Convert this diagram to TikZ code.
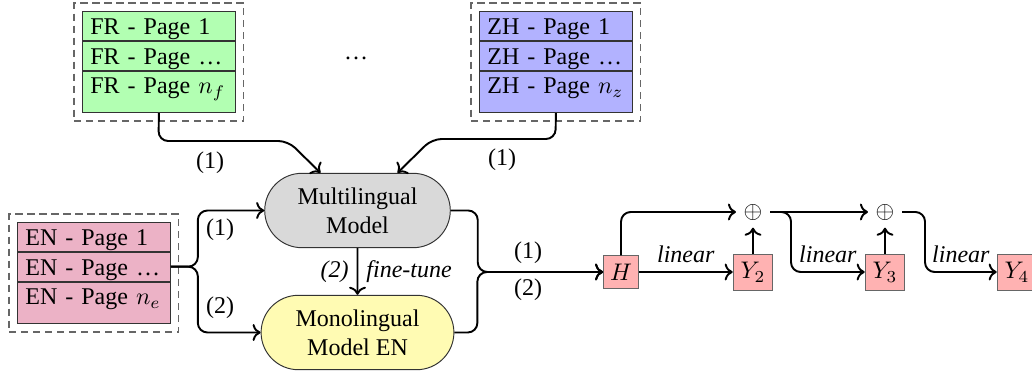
\documentclass[tikz,border=0pt]{standalone}
\usepackage[dvipsnames]{xcolor}
\usepackage{amsmath}
\usepackage{amssymb}
\usepackage{fontspec}
\setmainfont{Liberation Serif}
\usetikzlibrary{arrows, arrows.meta, positioning, shapes.misc, fit, calc}

\tikzset{
  page/.style={draw=black!80, text width=57.1pt, inner xsep=3.3pt, inner ysep=2.5pt,
    text height=7pt, text depth=0pt, align=left},
  lastpage/.style={page, text depth=5.4pt},
  lang/.style={draw=black!60, line width=0.6pt, dash pattern=on 3pt off 2pt, inner sep=3.3pt},
  model/.style={draw=black!80, rounded rectangle, minimum width=84pt, minimum height=31pt, align=center},
  head/.style={draw=black!60, fill=red!30, inner sep=1pt, minimum height=15pt, minimum width=16.5pt},
  link/.style={thick, ->, rounded corners=4pt},
}

\begin{document}
\begin{tikzpicture}[x=0.4167pt, y=-0.4167pt]
\useasboundingbox (0,0) rectangle (1032,375);

% pages of each language
\node[page, fill=green!30, anchor=north west] (fr1) at (82,11) {FR - Page 1};
\node[page, fill=green!30, below=0pt of fr1] (fr2) {FR - Page \dots};
\node[lastpage, fill=green!30, below=0pt of fr2] (fr3) {FR - Page $n_f$};
\node[lang, fit=(fr1)(fr3)] (fr) {};

\node[page, fill=blue!30, anchor=north west] (zh1) at (479,11) {ZH - Page 1};
\node[page, fill=blue!30, below=0pt of zh1] (zh2) {ZH - Page \dots};
\node[lastpage, fill=blue!30, below=0pt of zh2] (zh3) {ZH - Page $n_z$};
\node[lang, fit=(zh1)(zh3)] (zh) {};

\node (dots) at (356,58) {\dots};

\node[page, fill=purple!30, anchor=north west] (en1) at (17,222) {EN - Page 1};
\node[page, fill=purple!30, below=0pt of en1] (en2) {EN - Page \dots};
\node[lastpage, fill=purple!30, below=0pt of en2] (en3) {EN - Page $n_e$};
\node[lang, fit=(en1)(en3)] (en) {};

% models
\node[model, fill=gray!30] (multi) at (357.5,210.5) {Multilingual\\Model};
\node[model, fill=yellow!30, minimum width=87pt] (mono) at (357.5,332.5) {Monolingual\\Model EN};

% heads
\node[head, minimum width=14.5pt, minimum height=13.5pt] (H) at (621,272) {$H$};
\node[inner sep=3pt] (plus1) at (753,212) {$\oplus$};
\node[head] (Y2) at (753,272) {$Y_2$};
\node[inner sep=3pt] (plus2) at (885,212) {$\oplus$};
\node[head] (Y3) at (885,272) {$Y_3$};
\node[head] (Y4) at (1017,272) {$Y_4$};

% connectors
\draw[link] (fr3.south) -- (158.5,141) -- (288,141) -- ($(multi.north)+(-37,0)$);
\node (frlab) at (210,163) {(1)};
\draw[link] (zh3.south) -- (555.5,139) -- (432,139) -- ($(multi.north)+(40,0)$);
\node (zhlab) at (502,160) {(1)};

\draw[link] (en2.east) -- ++(27,0) |- (multi.west);
\draw[link] (en2.east) -- ++(27,0) |- (mono.west);
\node (enlab1) at (220,230) {(1)};
\node (enlab2) at (220,308) {(2)};

\draw[link] (multi) -- node[left] (ftlab) {\textit{(2)}} node[right] (ft) {\textit{fine-tune}} (mono);

\draw[link] (multi.east) -- ++(27,0) |- (H.west);
\draw[link] (mono.east) -- ++(23,0) |- (H.west);
\node (outlab1) at (528,253) {(1)};
\node (outlab2) at (528,290) {(2)};

\draw[link] (H.north) |- (plus1.west);
\draw[link] (H.east) -- node[above] (lin1) {\textit{linear}} (Y2.west);
\draw[link] (Y2.north) -- (plus1.south);
\draw[link] (plus1.east) -- (plus2.west);
\draw[link] (plus1.east) -- ++(21,0) |- node[pos=0.75, above] (lin2) {\textit{linear}} (Y3.west);
\draw[link] (Y3.north) -- (plus2.south);
\draw[link] (plus2.east) -- ++(23,0) |- node[pos=0.75, above] (lin3) {\textit{linear}} (Y4.west);
\end{tikzpicture}
\end{document}
